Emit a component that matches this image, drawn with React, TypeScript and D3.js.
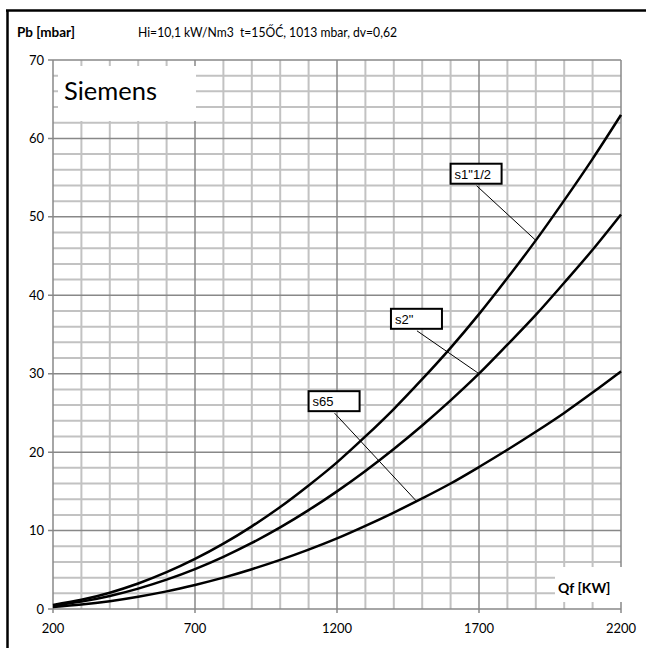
import React from "react";
import * as d3 from "d3";

const qf = [200, 300, 400, 500, 600, 700, 800, 900, 1000, 1100, 1200, 1300, 1400, 1500, 1600, 1700, 1800, 1900, 2000, 2100, 2200];
const s1half = [0.52, 1.17, 2.08, 3.25, 4.69, 6.38, 8.33, 10.54, 13.0, 15.75, 18.7, 22.0, 25.5, 29.3, 33.3, 37.6, 42.2, 47.0, 52.1, 57.4, 63.0];
const s2 = [0.42, 0.94, 1.66, 2.6, 3.74, 5.09, 6.65, 8.42, 10.4, 12.6, 15.0, 17.6, 20.4, 23.4, 26.6, 30.0, 33.7, 37.5, 41.6, 45.8, 50.3];
const s65 = [0.25, 0.56, 1.0, 1.57, 2.25, 3.07, 4.0, 5.07, 6.26, 7.57, 9.0, 10.6, 12.3, 14.1, 16.0, 18.1, 20.3, 22.6, 25.0, 27.6, 30.3];

const xTicks = [200, 700, 1200, 1700, 2200];
const yTicks = [0, 10, 20, 30, 40, 50, 60, 70];
const xMinor = d3.range(200, 2201, 100);
const yMinor = d3.range(0, 71, 2);

const seriesNames = ['s1"1/2', 's2"', "s65"];
const seriesData = [s1half, s2, s65];
// label anchor (Qf, Pb) for the boxes and the point on the curve the leader reaches
const labelAt = [
  { q: 1600, p: 55.5 },
  { q: 1390, p: 37 },
  { q: 1100, p: 26.5 },
];
const leaderTarget = [1900, 1700, 1480];

const titleText = "Hi=10,1 kW/Nm3  t=15ŐĆ, 1013 mbar, dv=0,62";

export default function App() {
  const x = d3.scaleLinear().domain([200, 2200]).range([53, 621]);
  const y = d3.scaleLinear().domain([0, 70]).range([609, 60]);
  const line = d3
    .line<number>()
    .x((_, i) => x(qf[i]))
    .y((d) => y(d))
    .curve(d3.curveMonotoneX);

  const font = "Lato, 'Open Sans', sans-serif";
  const minorColor = "#c2c2c2";
  const majorColor = "#888888";

  return (
    <svg width={646} height={648} style={{ position: "absolute", left: 0, top: 0 }}>
      <rect x={0} y={0} width={646} height={648} fill="#fff" />
      {/* outer frame */}
      <line x1={7.5} y1={10} x2={7.5} y2={648} stroke="#000" strokeWidth={2.5} />
      <line x1={6} y1={10.5} x2={646} y2={10.5} stroke="#000" strokeWidth={2.5} />

      {/* minor grid */}
      {xMinor.filter((v) => (v - 200) % 500 !== 0).map((v) => (
        <line key={"xm" + v} x1={x(v)} x2={x(v)} y1={y(70)} y2={y(0)} stroke={minorColor} strokeWidth={2} />
      ))}
      {yMinor.filter((v) => v % 10 !== 0).map((v) => (
        <line key={"ym" + v} x1={x(200)} x2={x(2200)} y1={y(v)} y2={y(v)} stroke={minorColor} strokeWidth={2} />
      ))}
      {/* major grid */}
      {xTicks.map((v) => (
        <line key={"xM" + v} x1={x(v)} x2={x(v)} y1={y(70)} y2={y(0) + 4} stroke={majorColor} strokeWidth={1.5} />
      ))}
      {yTicks.map((v) => (
        <line key={"yM" + v} x1={x(200) - 5} x2={x(2200)} y1={y(v)} y2={y(v)} stroke={majorColor} strokeWidth={1.5} />
      ))}

      {/* axis labels */}
      {yTicks.map((v) => (
        <text key={"yl" + v} x={44} y={y(v) + 4.5} textAnchor="end" fontFamily={font} fontSize={13} fill="#000">
          {v}
        </text>
      ))}
      {xTicks.map((v) => (
        <text key={"xl" + v} x={x(v)} y={633} textAnchor="middle" fontFamily={font} fontSize={13} fill="#000">
          {v}
        </text>
      ))}

      {/* curves */}
      {seriesData.map((d, i) => (
        <path key={"c" + i} d={line(d) || ""} fill="none" stroke="#000" strokeWidth={2.5} strokeLinejoin="round" />
      ))}

      {/* leaders and labels */}
      {seriesNames.map((name, i) => {
        const lx = x(labelAt[i].q);
        const ly = y(labelAt[i].p);
        const tq = leaderTarget[i];
        const j = Math.max(1, qf.findIndex((q) => q >= tq));
        const f = (tq - qf[j - 1]) / (qf[j] - qf[j - 1]);
        const tp = seriesData[i][j - 1] + f * (seriesData[i][j] - seriesData[i][j - 1]);
        return (
          <g key={"lab" + i}>
            <line x1={lx + 26} y1={ly + 12} x2={x(tq)} y2={y(tp)} stroke="#000" strokeWidth={1} />
            <rect x={lx} y={ly - 10} width={51} height={20} fill="#fff" stroke="#000" strokeWidth={2} />
            <text x={lx + 4} y={ly + 5} fontFamily="'Liberation Sans', Arial, sans-serif" fontSize={13} fill="#000">
              {name}
            </text>
          </g>
        );
      })}

      {/* Siemens box */}
      <rect x={58} y={66} width={138} height={55} fill="#fff" />
      <text x={64} y={100} fontFamily={font} fontSize={25.5} fill="#000">
        Siemens
      </text>

      {/* Qf box */}
      <rect x={555} y={567} width={72} height={35} fill="#fff" />
      <text x={558} y={593} fontFamily={font} fontSize={14} fontWeight="bold" fill="#000">
        Qf [KW]
      </text>

      {/* titles */}
      <text x={17} y={37} fontFamily={font} fontSize={13.5} fontWeight="bold" fill="#000">
        Pb [mbar]
      </text>
      <text x={138} y={37} fontFamily={font} fontSize={13.5} fill="#000" xmlSpace="preserve" textLength={259} lengthAdjust="spacingAndGlyphs">
        {titleText}
      </text>
    </svg>
  );
}
